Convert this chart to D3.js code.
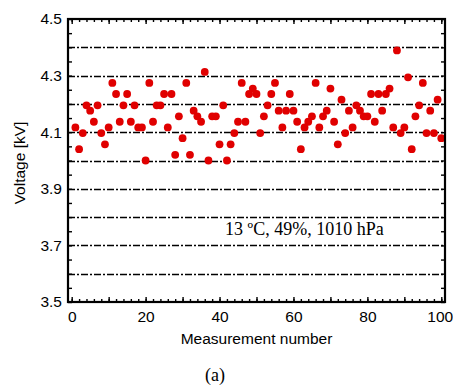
<!DOCTYPE html>
<html>
<head>
<meta charset="utf-8">
<style>
  body { margin: 0; background: #fff; }
  svg { display: block; }
  .axis text { font-family: "Liberation Sans", Arial, sans-serif; font-size: 15.5px; fill: #000; }
  .axis .domain { display: none; }
  .axis line { stroke: #000; stroke-width: 1.4; }
</style>
</head>
<body>
<svg width="453" height="387"></svg>
<script src="https://d3js.org/d3.v7.min.js"></script>
<script>

var measurement = d3.range(1, 101);
var voltage = [
  4.117, 4.040, 4.097, 4.195, 4.176, 4.137, 4.195, 4.097, 4.057, 4.117,
  4.274, 4.235, 4.137, 4.195, 4.235, 4.137, 4.195, 4.117, 4.117, 4.000,
  4.274, 4.137, 4.195, 4.195, 4.235, 4.117, 4.235, 4.020, 4.156, 4.079,
  4.274, 4.020, 4.176, 4.156, 4.137, 4.313, 4.000, 4.156, 4.156, 4.057,
  4.195, 4.000, 4.057, 4.097, 4.137, 4.274, 4.137, 4.235, 4.254, 4.235,
  4.097, 4.156, 4.195, 4.235, 4.274, 4.176, 4.117, 4.176, 4.235, 4.176,
  4.137, 4.040, 4.117, 4.137, 4.156, 4.274, 4.117, 4.156, 4.176, 4.254,
  4.137, 4.057, 4.215, 4.097, 4.176, 4.117, 4.195, 4.176, 4.156, 4.156,
  4.235, 4.137, 4.235, 4.176, 4.235, 4.254, 4.117, 4.389, 4.097, 4.117,
  4.294, 4.040, 4.156, 4.195, 4.274, 4.097, 4.176, 4.097, 4.215, 4.079
];
var xTickLabels = [0, 20, 40, 60, 80, 100];
var yTickLabels = [3.5, 3.7, 3.9, 4.1, 4.3, 4.5];
var gridValues = [3.6, 3.7, 3.8, 3.9, 4.0, 4.1, 4.2, 4.3, 4.4];
var note = "13 \u00baC, 49%, 1010 hPa";
var caption = "(a)";

var svg = d3.select("svg"),
    margin = {top: 19, right: 8, bottom: 85, left: 68},
    width = +svg.attr("width") - margin.left - margin.right,
    height = +svg.attr("height") - margin.top - margin.bottom,
    g = svg.append("g").attr("transform", "translate(" + margin.left + "," + margin.top + ")");

var x = d3.scaleLinear().domain([-1, 101]).range([0, width]);
var y = d3.scaleLinear().domain([3.5, 4.5]).range([height, 0]);

var fmtY = d3.format(".1f");

// minor ticks (inside the frame)
var xMinor = d3.range(0, 101, 2), xMajor = d3.range(0, 101, 10);
var yMinor = d3.range(0, 21).map(function(i) { return 3.5 + i * 0.05; });

g.append("g").attr("class", "axis")
    .attr("transform", "translate(0," + height + ")")
    .call(d3.axisBottom(x).tickValues(xMinor).tickSize(-3).tickFormat(""));
g.append("g").attr("class", "axis")
    .attr("transform", "translate(0," + height + ")")
    .call(d3.axisBottom(x).tickValues(xMajor).tickSize(-5).tickFormat(""));
var xLab = g.append("g").attr("class", "axis")
    .attr("transform", "translate(0," + height + ")")
    .call(d3.axisBottom(x).tickValues(xTickLabels).tickSize(0).tickPadding(9).tickFormat(d3.format("d")));
// last label sits on the right edge, as in the original
xLab.selectAll("text").filter(function(d) { return d === 100; }).attr("dx", "-1.5");

g.append("g").attr("class", "axis")
    .call(d3.axisTop(x).tickValues(xMinor).tickSize(-3).tickFormat(""));
g.append("g").attr("class", "axis")
    .call(d3.axisTop(x).tickValues(xMajor).tickSize(-5).tickFormat(""));

g.append("g").attr("class", "axis")
    .call(d3.axisLeft(y).tickValues(yMinor).tickSize(-4).tickFormat(""));
g.append("g").attr("class", "axis")
    .call(d3.axisLeft(y).tickValues(yTickLabels).tickSize(0).tickPadding(6).tickFormat(fmtY));
g.append("g").attr("class", "axis")
    .attr("transform", "translate(" + width + ",0)")
    .call(d3.axisRight(y).tickValues(yMinor).tickSize(-4).tickFormat(""));

// dash-dot grid lines
g.append("g").selectAll("line")
    .data(gridValues)
    .enter().append("line")
    .attr("x1", 0)
    .attr("x2", width)
    .attr("y1", function(d) { return Math.round(y(d)) + 0.5; })
    .attr("y2", function(d) { return Math.round(y(d)) + 0.5; })
    .attr("stroke", "#000")
    .attr("stroke-width", 1.6)
    .attr("stroke-dasharray", "7,2,2,2");

// note text
g.append("text")
    .attr("x", x(41.5))
    .attr("y", y(3.735))
    .style("font-family", "'Liberation Serif', 'Times New Roman', serif")
    .style("font-size", "18px")
    .text(note);

// data points
g.append("g").selectAll("circle")
    .data(measurement)
    .enter().append("circle")
    .attr("cx", function(d) { return x(d); })
    .attr("cy", function(d, i) { return y(voltage[i]); })
    .attr("r", 3.9)
    .attr("fill", "#e00000");

// frame
g.append("rect")
    .attr("width", width)
    .attr("height", height)
    .attr("fill", "none")
    .attr("stroke", "#000")
    .attr("stroke-width", 2.2);

// axis titles
svg.append("text")
    .attr("x", margin.left + width / 2)
    .attr("y", 344)
    .attr("text-anchor", "middle")
    .style("font", "15.5px 'Liberation Sans', Arial, sans-serif")
    .text("Measurement number");

svg.append("text")
    .attr("transform", "translate(25," + 163 + ") rotate(-90)")
    .attr("text-anchor", "middle")
    .style("font", "15.5px 'Liberation Sans', Arial, sans-serif")
    .text("Voltage [kV]");

svg.append("text")
    .attr("x", 215)
    .attr("y", 381)
    .attr("text-anchor", "middle")
    .style("font", "18px 'Liberation Serif', 'Times New Roman', serif")
    .text(caption);

</script>
</body>
</html>
